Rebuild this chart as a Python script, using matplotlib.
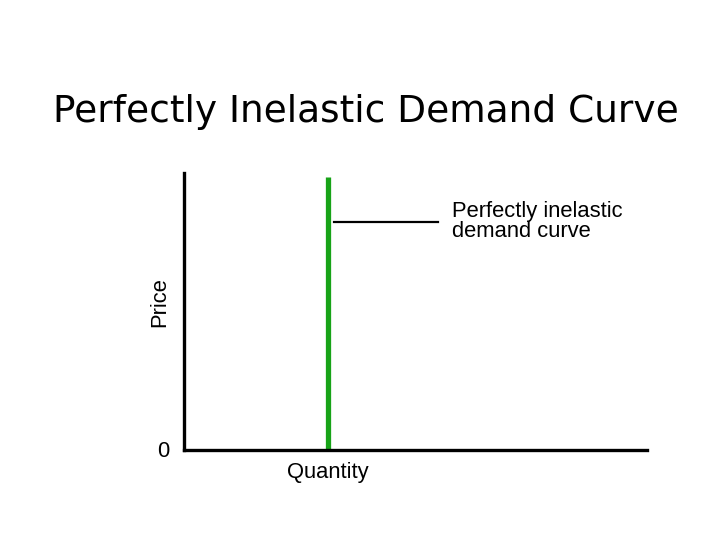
import matplotlib.pyplot as plt

# demand: quantity fixed whatever the price
quantity = [0.311, 0.311]
price = [0.0, 0.985]
label_line_x = [0.324, 0.549]
label_line_y = [0.823, 0.823]

plt.rcParams['font.family'] = ['Liberation Sans', 'DejaVu Sans']

fig = plt.figure(figsize=(7.2, 5.4), dpi=100)
ax = fig.add_axes([0.2556, 0.1667, 0.643, 0.513])

ax.plot(quantity, price, color='#17a317', lw=3.8, solid_capstyle='butt')
ax.plot(label_line_x, label_line_y, color='black', lw=1.6)

ax.set_xlim(0, 1)
ax.set_ylim(0, 1)
for side in ['top', 'right']:
    ax.spines[side].set_visible(False)
for side in ['left', 'bottom']:
    ax.spines[side].set_linewidth(2.4)
ax.set_xticks([])
ax.set_yticks([])

ax.text(0.579, 0.825, 'Perfectly inelastic\ndemand curve', fontsize=15.8,
        va='center', ha='left', linespacing=0.95, transform=ax.transAxes)
ax.text(-0.052, 0.534, 'Price', fontsize=15.8, rotation=90,
        va='center', ha='center', transform=ax.transAxes)
ax.text(-0.045, -0.007, '0', fontsize=15.8, va='center', ha='center',
        transform=ax.transAxes)
ax.text(0.311, -0.083, 'Quantity', fontsize=15.8, va='center', ha='center',
        transform=ax.transAxes)

fig.text(0.508, 0.793, 'Perfectly Inelastic Demand Curve', fontsize=27,
         family='DejaVu Sans', ha='center', va='center')

plt.savefig('out.png')
